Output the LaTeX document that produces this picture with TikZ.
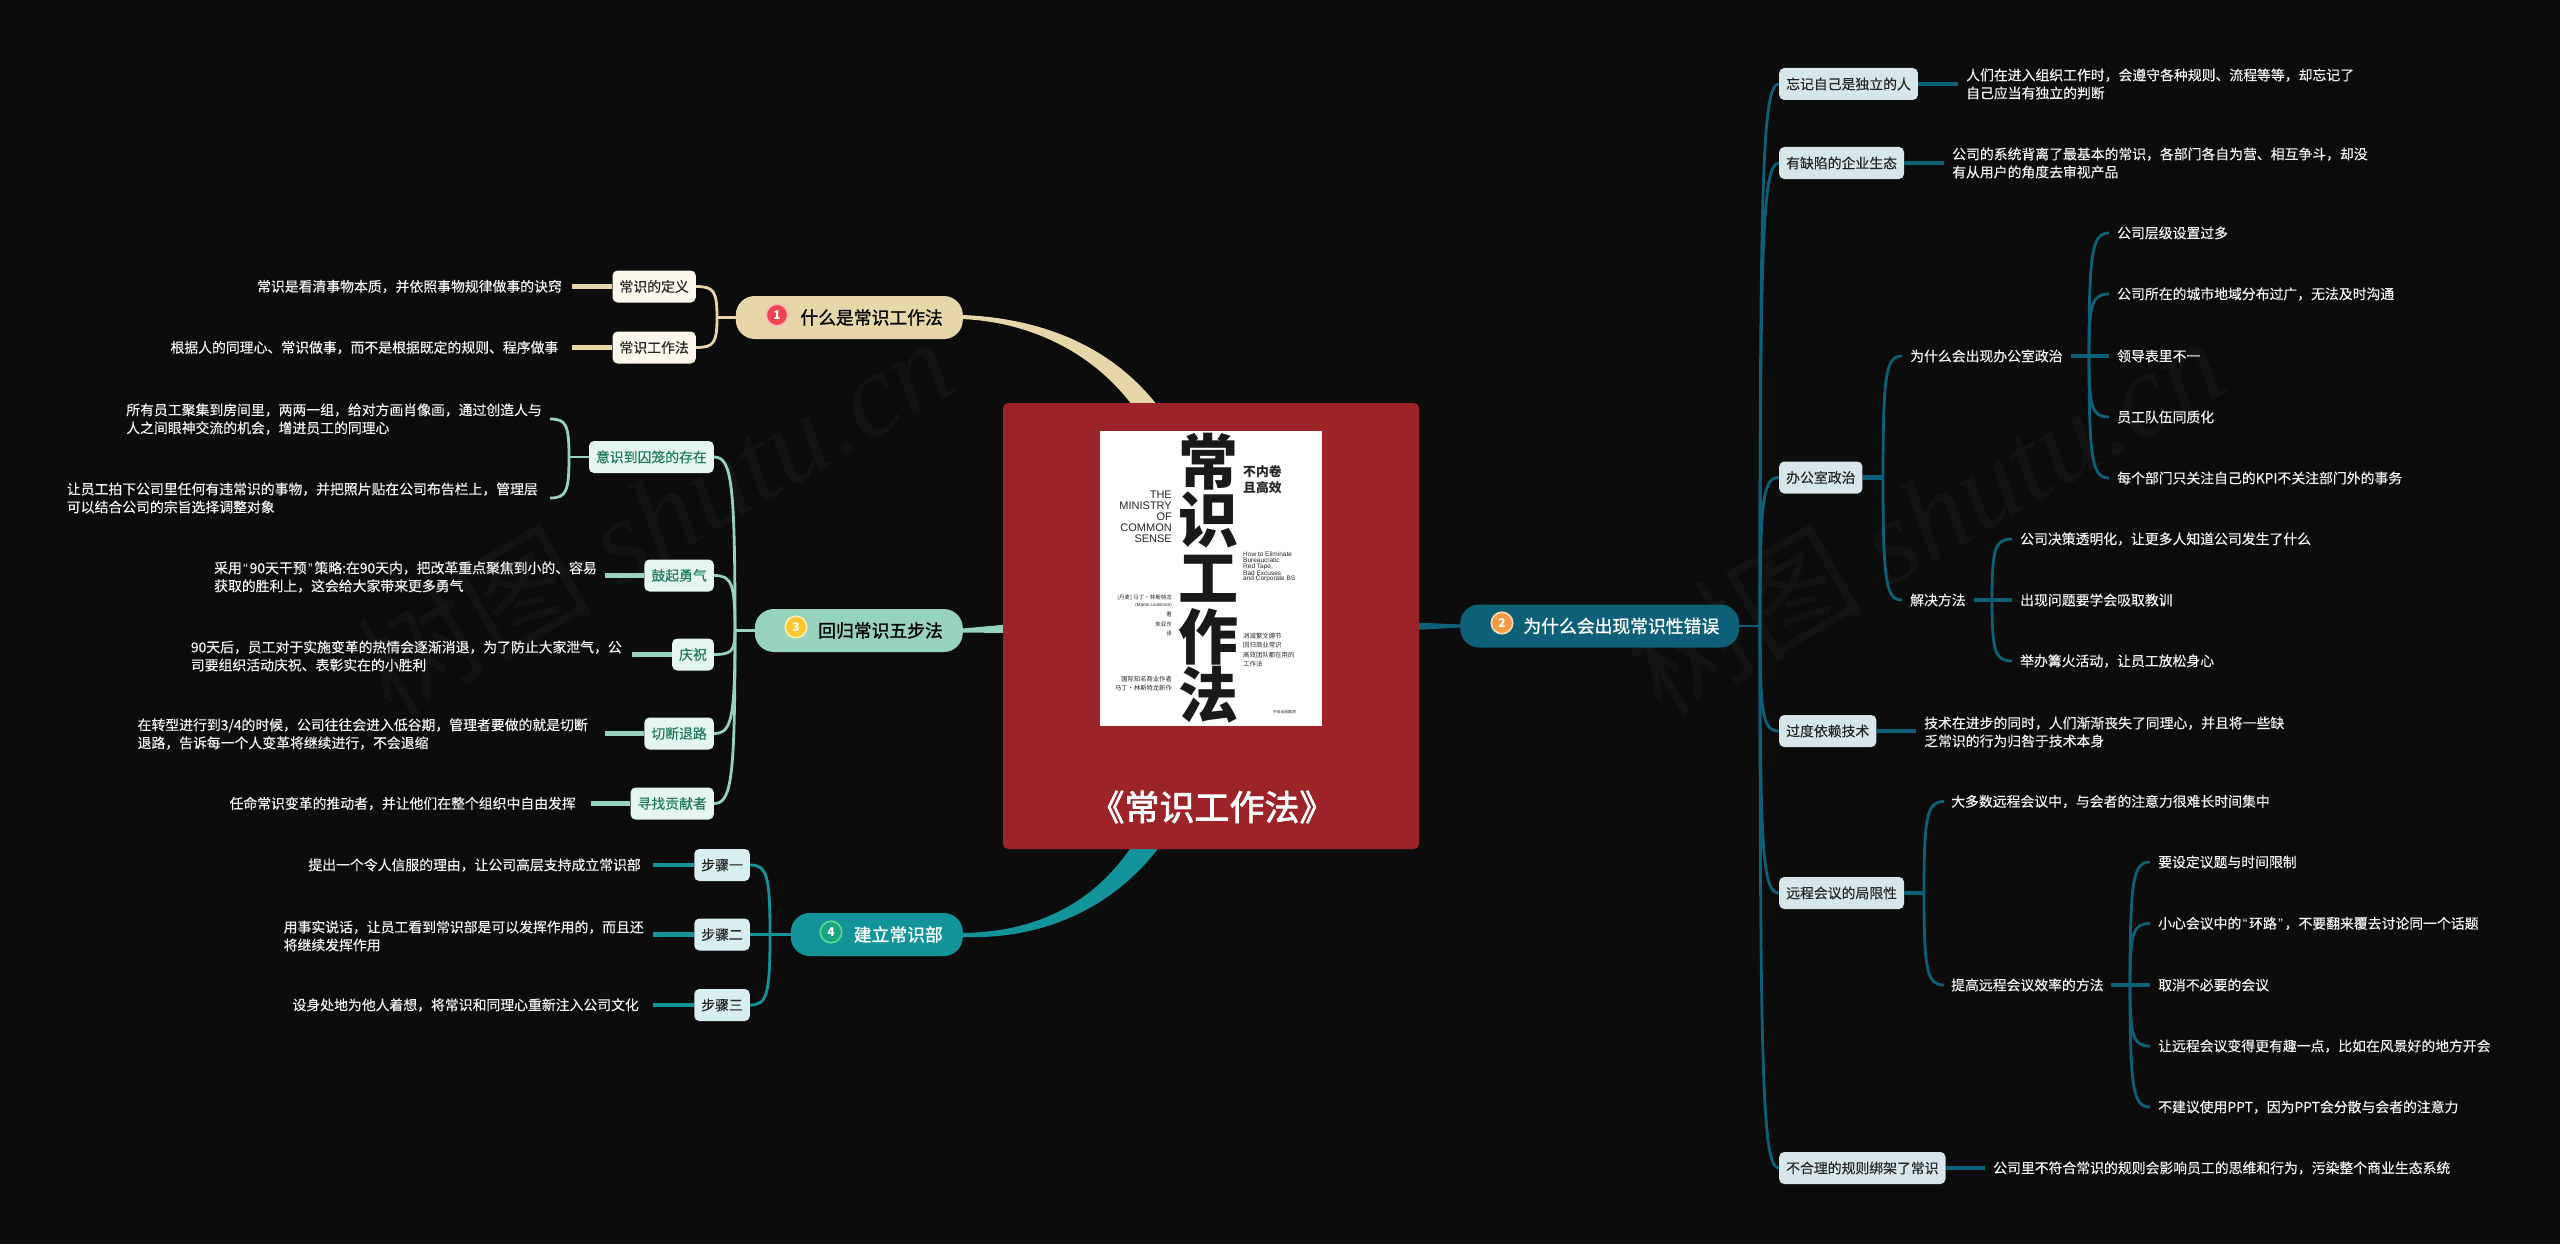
\documentclass[tikz,border=0pt]{standalone}
\usepackage{fontspec}
\usetikzlibrary{calc}
\setmainfont{Noto Sans CJK SC}
\newfontfamily\latinf{Liberation Sans}
\newfontfamily\wmserif[ItalicFont=*]{Liberation Serif Italic}
\newfontfamily\medf[FakeBold=1.2]{Noto Sans CJK SC}
\newfontfamily\titlef[FakeBold=2.2]{Noto Sans CJK SC}
\newfontfamily\leaff[FakeBold=0.2]{Noto Sans CJK SC}
\definecolor{bgc}{HTML}{0C0C0C}
\definecolor{wmc}{HTML}{131313}
\definecolor{txtc}{HTML}{F4F4F4}
\definecolor{redbox}{HTML}{9C2327}
\definecolor{cone}{HTML}{E7D7A8}
\definecolor{ctwo}{HTML}{0E6079}
\definecolor{cthree}{HTML}{97D2BC}
\definecolor{cfour}{HTML}{12949A}
\definecolor{kone}{HTML}{FBF7EA}
\definecolor{ktwo}{HTML}{D6E6EA}
\definecolor{kthree}{HTML}{E5F5EF}
\definecolor{kfour}{HTML}{D9EEF0}
\definecolor{gtxt}{HTML}{1F7A5C}
\definecolor{bone}{HTML}{EE4452}\definecolor{rone}{HTML}{F6B8BC}
\definecolor{btwo}{HTML}{F59A45}\definecolor{rtwo}{HTML}{F8DDBD}
\definecolor{bthree}{HTML}{FBC72C}\definecolor{rthree}{HTML}{FCF0B0}
\definecolor{bfour}{HTML}{1AA37F}\definecolor{rfour}{HTML}{5EDB90}
\newcommand\fs{\leaff\fontsize{13.85}{18}\selectfont}
\newcommand\ft{\medf\fontsize{17.8}{22}\selectfont}
\newcommand\qo{\kern1.6pt{\latinf “}\kern1.6pt}
\newcommand\qc{\kern1.6pt{\latinf ”}\kern1.6pt}
\newcommand\bcurve[3]{\draw[#1] (#2) .. controls ($(#2)!0.85!(#2|-#3)$) and ($(#2|-#3)!0.15!(#3)$) .. (#3);}
\tikzset{
  leafl/.style={anchor=east,text=txtc,inner xsep=10pt,inner ysep=0pt,align=left,font=\fs},
  leafr/.style={anchor=west,text=txtc,inner xsep=8pt,inner ysep=0pt,align=left,font=\fs},
  kid/.style={rounded corners=5pt,minimum height=32pt,inner xsep=7pt,inner ysep=0pt,font=\fs,text=black!85},
  pill/.style={rounded corners=19pt,minimum height=43pt,inner xsep=20pt,inner ysep=0pt,align=right,font=\ft},
  badge/.style={circle,minimum size=21.5pt,inner sep=0pt,line width=1.6pt,text=white,font=\fontsize{12}{12}\selectfont\bfseries},
  conn/.style={line width=2.8pt},
  stub/.style={line width=4.2pt},
  watermark/.style={text=wmc,rotate=30,font=\fontsize{118}{118}\selectfont},
  cov/.style={text=black!85,inner sep=0pt},
}
\begin{document}
\begin{tikzpicture}[x=1pt,y=-1pt]
\useasboundingbox (0,0) rectangle (2560,1244);
\fill[bgc] (0,0) rectangle (2560,1244);
\node[watermark] (wml) at (654,515) {树图 {\wmserif shutu.cn}};
\node[watermark] (wmr) at (1925,515) {树图 {\wmserif shutu.cn}};

% topics
\node[pill,fill=cone,text=black,anchor=east,text width=187pt] (t1) at (963,317.5) {什么是常识工作法};
\node[pill,fill=ctwo,text=white,anchor=west,text width=239pt] (t2) at (1460,626) {为什么会出现常识性错误};
\node[pill,fill=cthree,text=black,anchor=east,text width=168pt] (t3) at (963,630.5) {回归常识五步法};
\node[pill,fill=cfour,text=white,anchor=east,text width=132pt] (t4) at (963,934.5) {建立常识部};
\node[badge,fill=bone,draw=rone] (b1) at (777,315) {1};
\node[badge,fill=btwo,draw=rtwo] (b2) at (1502,623) {2};
\node[badge,fill=bthree,draw=rthree] (b3) at (796,627) {3};
\node[badge,fill=bfour,draw=rfour] (b4) at (831,932) {4};

% thick connectors to the centre
\fill[cone] ($(t1.east)+(-1,-2.5)$) .. controls (1040,318) and (1110,345) .. (1157,405) -- (1132,405) .. controls (1092,352) and (1030,322) .. ($(t1.east)+(-1,1.5)$) -- cycle;
\fill[ctwo] (1415,622.5) -- ($(t2.west)+(1,-1.5)$) -- ($(t2.west)+(1,1.5)$) -- (1415,630) -- cycle;
\fill[cthree] ($(t3.east)+(-1,-2)$) -- (1007,624.5) -- (1007,633) -- ($(t3.east)+(-1,2)$) -- cycle;
\fill[cfour] ($(t4.east)+(-1,-1.5)$) .. controls (1035,932) and (1092,905) .. (1132,846) -- (1160,846) .. controls (1112,910) and (1040,940) .. ($(t4.east)+(-1,2.5)$) -- cycle;

% centre
\node[fill=redbox,rounded corners=5pt,minimum width=416pt,minimum height=446pt,inner sep=0pt] (root) at (1211,626) {};
\node[fill=white,minimum width=222pt,minimum height=295pt,inner sep=0pt] (cover) at (1211,578.5) {};
\node[cov,align=center,font=\fontsize{60}{58.25}\selectfont\bfseries,text=black!90] (cvt) at (1208,578) {常\\识\\工\\作\\法};
\node[cov,align=left,anchor=west,font=\fontsize{12.8}{15.7}\selectfont\bfseries] (cva) at (1243,479.5) {不内卷\\且高效};
\node[cov,align=right,anchor=east,font=\latinf\fontsize{11}{11}\selectfont] (cvb) at (1172,517) {THE\\MINISTRY\\OF\\COMMON\\SENSE};
\node[cov,align=left,anchor=west,font=\latinf\fontsize{6.5}{5.8}\selectfont] (cvc) at (1243,567) {How to Eliminate\\Bureaucratic\\Red Tape,\\Bad Excuses\\and Corporate BS};
\node[cov,align=left,anchor=west,font=\fontsize{6.4}{9.33}\selectfont] (cvd) at (1243,650) {消减繁文缛节\\回归商业常识\\高效团队都在用的\\工作法};
\node[cov,align=right,anchor=east,font=\fontsize{5.5}{5.5}\selectfont] (cve) at (1172,598) {[丹麦] 马丁·林斯特龙};
\node[cov,align=right,anchor=east,font=\latinf\fontsize{4.5}{4.5}\selectfont] (cvf) at (1172,605) {(Martin Lindstrom)};
\node[cov,align=right,anchor=east,font=\fontsize{5.5}{5.5}\selectfont] (cvg) at (1172,614) {著};
\node[cov,align=right,anchor=east,font=\fontsize{5.5}{5.5}\selectfont] (cvh) at (1172,624) {朱亚东};
\node[cov,align=right,anchor=east,font=\fontsize{5.5}{5.5}\selectfont] (cvi) at (1172,633) {译};
\node[cov,align=right,anchor=east,font=\fontsize{6.3}{9}\selectfont] (cvj) at (1172,683.5) {国际知名商业作者\\马丁·林斯特龙新作};
\node[cov,anchor=east,font=\fontsize{3.8}{4}\selectfont] (cvk) at (1296,712) {中信出版集团};
\node[text=white,font=\titlef\fontsize{35}{40}\selectfont,inner sep=0pt] (title) at (1212,807) {《常识工作法》};

% branch 1
\coordinate (s1) at (717,317.5);
\node[kid,fill=kone,anchor=east] (k11) at (696,286.5) {常识的定义};
\node[kid,fill=kone,anchor=east] (k12) at (696,347.5) {常识工作法};
\node[leafl] (l11) at (572,286.5) {常识是看清事物本质，并依照事物规律做事的诀窍};
\node[leafl,inner xsep=13.5pt] (l12) at (572,347.5) {根据人的同理心、常识做事，而不是根据既定的规则、程序做事};
\draw[conn,cone] (t1.west) -- (s1);
\bcurve{conn,cone}{s1}{k11.east}
\bcurve{conn,cone}{s1}{k12.east}
\draw[stub,cone] (l11.east) -- (k11.west);
\draw[stub,cone] (l12.east) -- (k12.west);

% branch 3
\coordinate (s3) at (735,630.5);
\coordinate (s31) at (569,457);
\node[kid,fill=kthree,text=gtxt,anchor=east] (k31) at (714,457) {意识到囚笼的存在};
\node[kid,fill=kthree,text=gtxt,anchor=east] (k32) at (714,575.5) {鼓起勇气};
\node[kid,fill=kthree,text=gtxt,anchor=east] (k33) at (714,654.5) {庆祝};
\node[kid,fill=kthree,text=gtxt,anchor=east] (k34) at (714,733.5) {切断退路};
\node[kid,fill=kthree,text=gtxt,anchor=east] (k35) at (714,803.5) {寻找贡献者};
\node[leafl,inner xsep=8pt] (l31) at (550,419) {所有员工聚集到房间里，两两一组，给对方画肖像画，通过创造人与\\人之间眼神交流的机会，增进员工的同理心};
\node[leafl,inner xsep=12pt] (l32) at (550,498) {让员工拍下公司里任何有违常识的事物，并把照片贴在公司布告栏上，管理层\\可以结合公司的宗旨选择调整对象};
\node[leafl,inner xsep=8pt] (l33) at (605,577) {采用\qo 90天干预\qc 策略:在90天内，把改革重点聚焦到小的、容易\\获取的胜利上，这会给大家带来更多勇气};
\node[leafl,inner xsep=10pt] (l34) at (632,656) {90天后，员工对于实施变革的热情会逐渐消退，为了防止大家泄气，公\\司要组织活动庆祝、表彰实在的小胜利};
\node[leafl,inner xsep=17pt] (l35) at (605,734) {在转型进行到3/4的时候，公司往往会进入低谷期，管理者要做的就是切断\\退路，告诉每一个人变革将继续进行，不会退缩};
\node[leafl,inner xsep=15pt] (l36) at (591,803.5) {任命常识变革的推动者，并让他们在整个组织中自由发挥};
\draw[conn,cthree] (t3.west) -- (s3);
\bcurve{conn,cthree}{s3}{k31.east}
\bcurve{conn,cthree}{s3}{k32.east}
\bcurve{conn,cthree}{s3}{k33.east}
\bcurve{conn,cthree}{s3}{k34.east}
\bcurve{conn,cthree}{s3}{k35.east}
\draw[conn,cthree] (k31.west) -- (s31);
\bcurve{conn,cthree}{s31}{l31.east}
\bcurve{conn,cthree}{s31}{l32.east}
\draw[stub,cthree] (l33.east|-k32.west) -- (k32.west);
\draw[stub,cthree] (l34.east|-k33.west) -- (k33.west);
\draw[stub,cthree] (l35.east|-k34.west) -- (k34.west);
\draw[stub,cthree] (l36.east) -- (k35.west);

% branch 4
\coordinate (s4) at (770,934.5);
\node[kid,fill=kfour,anchor=east] (k41) at (750,865) {步骤一};
\node[kid,fill=kfour,anchor=east] (k42) at (750,934.5) {步骤二};
\node[kid,fill=kfour,anchor=east] (k43) at (750,1005) {步骤三};
\node[leafl,inner xsep=12pt] (l41) at (653,865) {提出一个令人信服的理由，让公司高层支持成立常识部};
\node[leafl,inner xsep=9pt] (l42) at (653,936) {用事实说话，让员工看到常识部是可以发挥作用的，而且还\\将继续发挥作用};
\node[leafl,inner xsep=14pt] (l43) at (653,1005) {设身处地为他人着想，将常识和同理心重新注入公司文化};
\draw[conn,cfour] (t4.west) -- (s4);
\bcurve{conn,cfour}{s4}{k41.east}
\bcurve{conn,cfour}{s4}{k43.east}
\draw[conn,cfour] (s4) -- (k42.east);
\draw[stub,cfour] (l41.east) -- (k41.west);
\draw[stub,cfour] (l42.east|-k42.west) -- (k42.west);
\draw[stub,cfour] (l43.east) -- (k43.west);

% branch 2
\coordinate (s2) at (1760,626);
\node[kid,fill=ktwo,anchor=west] (k21) at (1779,84) {忘记自己是独立的人};
\node[kid,fill=ktwo,anchor=west] (k22) at (1779,163) {有缺陷的企业生态};
\node[kid,fill=ktwo,anchor=west] (k23) at (1779,477.5) {办公室政治};
\node[kid,fill=ktwo,anchor=west] (k24) at (1779,731) {过度依赖技术};
\node[kid,fill=ktwo,anchor=west] (k25) at (1779,893) {远程会议的局限性};
\node[kid,fill=ktwo,anchor=west] (k26) at (1779,1168) {不合理的规则绑架了常识};
\draw[conn,ctwo] (t2.east) -- (s2);
\foreach \k in {k21,k22,k23,k24,k25,k26}{\bcurve{conn,ctwo}{s2}{\k.west}}

\node[leafr] (l21) at (1958,84) {人们在进入组织工作时，会遵守各种规则、流程等等，却忘记了\\自己应当有独立的判断};
\node[leafr] (l22) at (1944,163) {公司的系统背离了最基本的常识，各部门各自为营、相互争斗，却没\\有从用户的角度去审视产品};
\node[leafr] (l24) at (1916,732) {技术在进步的同时，人们渐渐丧失了同理心，并且将一些缺\\乏常识的行为归咎于技术本身};
\node[leafr] (l26) at (1985,1168) {公司里不符合常识的规则会影响员工的思维和行为，污染整个商业生态系统};
\draw[stub,ctwo] (k21.east) -- (l21.west);
\draw[stub,ctwo] (k22.east) -- (l22.west);
\draw[stub,ctwo] (k24.east) -- (l24.west|-k24.east);
\draw[stub,ctwo] (k26.east) -- (l26.west);

% office politics
\coordinate (s23) at (1883,477.5);
\node[leafr] (m1) at (1902,356) {为什么会出现办公室政治};
\node[leafr] (m2) at (1902,600) {解决方法};
\draw[stub,ctwo] (k23.east) -- (s23);
\bcurve{conn,ctwo}{s23}{m1.west}
\bcurve{conn,ctwo}{s23}{m2.west}
\coordinate (s24) at (2089,356);
\node[leafr] (n1) at (2109,233) {公司层级设置过多};
\node[leafr] (n2) at (2109,294) {公司所在的城市地域分布过广，无法及时沟通};
\node[leafr] (n3) at (2109,356) {领导表里不一};
\node[leafr] (n4) at (2109,417) {员工队伍同质化};
\node[leafr] (n5) at (2109,478) {每个部门只关注自己的KPI不关注部门外的事务};
\draw[stub,ctwo] (m1.east) -- (n3.west);
\foreach \k in {n1,n2,n4,n5}{\bcurve{conn,ctwo}{s24}{\k.west}}
\coordinate (s25) at (1992,600);
\node[leafr] (o1) at (2012,539) {公司决策透明化，让更多人知道公司发生了什么};
\node[leafr] (o2) at (2012,600) {出现问题要学会吸取教训};
\node[leafr] (o3) at (2012,661) {举办篝火活动，让员工放松身心};
\draw[stub,ctwo] (m2.east) -- (o2.west);
\bcurve{conn,ctwo}{s25}{o1.west}
\bcurve{conn,ctwo}{s25}{o3.west}

% remote meetings
\coordinate (s26) at (1924,893);
\node[leafr,inner xsep=7pt] (p1) at (1944,801.5) {大多数远程会议中，与会者的注意力很难长时间集中};
\node[leafr,inner xsep=7pt] (p2) at (1944,985) {提高远程会议效率的方法};
\draw[stub,ctwo] (k25.east) -- (s26);
\bcurve{conn,ctwo}{s26}{p1.west}
\bcurve{conn,ctwo}{s26}{p2.west}
\coordinate (s27) at (2130,985);
\node[leafr] (q1) at (2150,862) {要设定议题与时间限制};
\node[leafr] (q2) at (2150,923.5) {小心会议中的\qo 环路\qc ，不要翻来覆去讨论同一个话题};
\node[leafr] (q3) at (2150,985) {取消不必要的会议};
\node[leafr] (q4) at (2150,1046) {让远程会议变得更有趣一点，比如在风景好的地方开会};
\node[leafr] (q5) at (2150,1107) {不建议使用PPT，因为PPT会分散与会者的注意力};
\draw[stub,ctwo] (p2.east) -- (q3.west);
\foreach \k in {q1,q2,q4,q5}{\bcurve{conn,ctwo}{s27}{\k.west}}
\end{tikzpicture}
\end{document}
